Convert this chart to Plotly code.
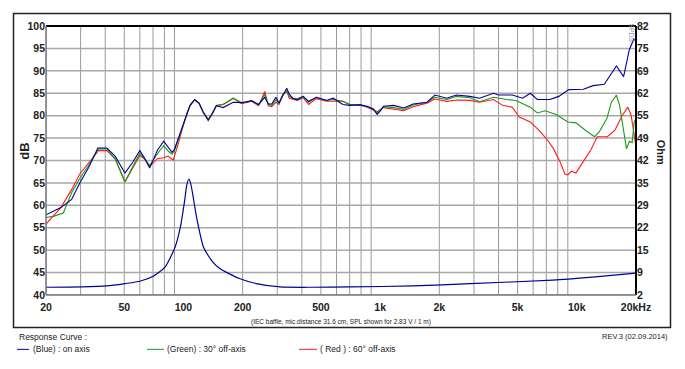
import plotly.graph_objects as go

# ---------------- data ----------------
blue_f = [20, 23.8, 27, 29.7, 33, 36.7, 40.8, 45, 50.4, 55, 60, 63.5, 67.3, 73.7, 79.4, 84, 87.4, 90, 95,
          99.2, 103.7, 108, 114, 120, 126, 133.6, 140, 147, 159, 170, 179, 197.7, 210, 222, 241, 259, 270,
          281, 295, 306, 320, 335, 345, 359, 380, 406, 433, 474, 535, 577, 646, 700, 789, 858, 920, 966,
          1000, 1040, 1170, 1320, 1470, 1730, 1900, 2180, 2440, 2860, 3200, 3770, 4000, 4700, 5300, 5800,
          6300, 7300, 8100, 9100, 10800, 12100, 13800, 15000, 15900, 17300, 18500, 19500, 20000]
blue_db = [57.9, 59.5, 61.3, 65, 68.5, 72.8, 72.8, 70.9, 67.2, 69.5, 72.2, 70.5, 68.3, 72.3, 74.3, 72.8, 71.8,
           72.5, 75.5, 77.8, 80.4, 82.3, 83.6, 82.8, 80.8, 79.1, 80.5, 82.2, 81.8, 82.5, 83, 82.9, 83.1, 83.3,
           82.5, 84.1, 82.6, 82.6, 84.1, 82.8, 84.5, 86.1, 84.8, 83.9, 83.5, 84.3, 83.2, 84.1, 83.4, 83.9,
           82.5, 82.3, 82.4, 82.1, 81.5, 80.3, 81, 82.1, 82.3, 81.7, 82.6, 83, 84.6, 83.9, 84.6, 84.3, 83.9,
           85, 84.6, 84.6, 83.9, 85, 83.6, 83.6, 84.3, 85.8, 85.9, 86.7, 87, 89.6, 91.1, 88.7, 94.7, 97.1, 96.6]

green_f = [20, 22, 24.5, 27, 29.7, 33, 37, 40.8, 45, 50.4, 55, 60, 63.5, 67.3, 73.7, 79.4, 84, 87.4, 90, 95,
           99.2, 103.7, 108, 114, 120, 126, 133.6, 140, 147, 159, 170, 179, 197.7, 210, 222, 241, 259, 270,
           281, 295, 306, 320, 335, 345, 359, 380, 406, 433, 474, 535, 577, 646, 700, 789, 858, 920, 966,
           1000, 1040, 1170, 1320, 1470, 1730, 1900, 2180, 2440, 2860, 3200, 3770, 4400, 4900, 5800, 6300,
           6900, 7900, 9000, 9900, 11100, 12300, 13000, 14200, 15000, 15900, 16500, 17400, 17900, 18500,
           19100, 19600, 20000]
green_db = [57.3, 57.6, 58.3, 62.8, 66, 69, 72.6, 72.6, 70.3, 65.2, 68.5, 71.6, 70.3, 68.9, 71.5, 73.3, 72,
            71.4, 72.2, 75.3, 77.8, 80.4, 82.3, 83.6, 82.8, 80.8, 79, 80.5, 82.3, 82.5, 83.2, 83.9, 82.9, 83,
            83.4, 82.4, 84.8, 82.5, 82.3, 83.5, 82.7, 84.8, 85.4, 84.3, 83.9, 83.8, 84.3, 83, 84.1, 83.4,
            83.6, 83.2, 82.5, 82.5, 82, 81.6, 80.6, 81.2, 82, 81.8, 81.4, 82.4, 83, 84.1, 83.6, 84.3, 84,
            83.1, 84.1, 83.6, 83.4, 81.9, 80.6, 81.1, 80.2, 78.6, 78.4, 76.7, 75.3, 76.4, 79.3, 83, 84.6,
            82.3, 76.4, 72.6, 74.3, 74, 78.6, 79.3]

red_f = [20, 23.8, 27, 29.7, 33, 37, 40.8, 45, 50.4, 55, 60, 63.5, 67.3, 73.7, 79.4, 83.5, 88.6, 93, 99.2,
         103.7, 108, 114, 120, 126, 133.6, 140, 147, 159, 170, 179, 197.7, 210, 222, 241, 259, 270, 281,
         295, 306, 320, 335, 345, 359, 380, 406, 433, 474, 535, 577, 646, 700, 789, 858, 920, 966, 1040,
         1170, 1320, 1470, 1730, 1900, 2180, 2440, 2860, 3200, 3770, 4200, 4700, 5100, 5800, 6300, 7000,
         7600, 8200, 8700, 9000, 9400, 9900, 10800, 11800, 12700, 14300, 15600, 17000, 18200, 18900,
         19600, 20000]
red_db = [55.8, 59.5, 63.5, 67, 69.5, 72.2, 72.2, 70.3, 65.2, 68, 71.1, 70.3, 68.7, 70.4, 70.6, 71, 70.1, 73,
          77.5, 80.4, 82.2, 83.5, 82.7, 80.7, 78.9, 80.3, 82.2, 82.5, 83.2, 83.9, 82.7, 82.9, 83.2, 82.2,
          85.4, 82.2, 82, 83, 82.5, 84.5, 85.6, 83.9, 83.7, 83.4, 84, 82.5, 83.8, 83.2, 83.2, 83.2, 82.5,
          82.4, 81.9, 81.4, 80.9, 81.8, 81.4, 81.1, 82, 82.8, 83.7, 83.2, 83.5, 83.4, 83, 83.6, 82.3, 81.9,
          79.7, 78.6, 77.1, 74.9, 72.7, 69.8, 67, 66.8, 67.6, 67.2, 69.8, 72.4, 75.3, 75.3, 76.7, 80, 81.9,
          80, 75.6, 73]

imp_f = [20, 30.4, 40.7, 50.4, 60, 70.2, 80.6, 90.6, 96.4, 101.3, 103.8, 106.6, 109, 111.5, 116.7, 126.5,
         140, 153.6, 192.6, 234.6, 310, 450, 704, 1470, 2860, 7560, 12000, 20000]
imp_ohm = [4.3, 4.4, 4.7, 5.4, 6.1, 7.6, 10.3, 16.2, 22.1, 29.9, 34.5, 36.5, 35, 31.9, 25, 16.2, 12, 9.8,
           6.9, 5.4, 4.4, 4.3, 4.4, 4.7, 5.4, 6.4, 7.3, 8.5]

x_tickvals = [20, 50, 100, 200, 500, 1000, 2000, 5000, 10000, 20000]
x_ticktext = ["20", "50", "100", "200", "500", "1k", "2k", "5k", "10k", "20kHz"]
db_ticks = [40, 45, 50, 55, 60, 65, 70, 75, 80, 85, 90, 95, 100]
ohm_tickvals = [2 + i * 80 / 12 for i in range(13)]
ohm_ticktext = ["2", "9", "15", "22", "29", "35", "42", "49", "55", "62", "69", "75", "82"]
grid_freqs = [f * m for m in (10, 100, 1000) for f in range(2, 10)] + [20000]
grid_freqs = [g for g in grid_freqs if 20 <= g <= 20000]

BLUE = "#000099"
GREEN = "#1a9a1a"
RED = "#ff1a1a"

fig = go.Figure()
fig.add_trace(go.Scatter(x=imp_f, y=imp_ohm, yaxis="y2", mode="lines",
                         line=dict(color=BLUE, width=1.2, shape="spline", smoothing=0.6), hoverinfo="skip"))
fig.add_trace(go.Scatter(x=red_f, y=red_db, mode="lines", line=dict(color=RED, width=1.1)))
fig.add_trace(go.Scatter(x=green_f, y=green_db, mode="lines", line=dict(color=GREEN, width=1.1)))
fig.add_trace(go.Scatter(x=blue_f, y=blue_db, mode="lines", line=dict(color=BLUE, width=1.1)))

shapes = []
for g in grid_freqs:
    shapes.append(dict(type="line", xref="x", yref="paper", x0=g, x1=g, y0=0, y1=1,
                       line=dict(color="#9a9a9a", width=1), layer="below"))
for v in db_ticks:
    shapes.append(dict(type="line", xref="paper", yref="y", x0=0, x1=1, y0=v, y1=v,
                       line=dict(color="#a8a8a8", width=1.5), layer="below"))
# plot borders
shapes.append(dict(type="line", xref="paper", yref="paper", x0=0, x1=1, y0=1, y1=1,
                   line=dict(color="black", width=2)))
shapes.append(dict(type="line", xref="paper", yref="paper", x0=1, x1=1, y0=0, y1=1,
                   line=dict(color="black", width=2)))
shapes.append(dict(type="line", xref="paper", yref="paper", x0=0, x1=0, y0=0, y1=1,
                   line=dict(color="#777777", width=1.5)))
shapes.append(dict(type="line", xref="paper", yref="paper", x0=0, x1=1, y0=0, y1=0,
                   line=dict(color="#777777", width=1.5)))

# page pixel -> paper coordinates (plot area spans page x 46..636, y 22.7..295)
def px(x):
    return (x - 46) / 590.0

def py(y):
    return (295 - y) / 272.3

shapes.append(dict(type="rect", xref="paper", yref="paper", x0=px(13.5), x1=px(670.5), y0=py(10), y1=py(328),
                   line=dict(color="#222222", width=1.5)))

# legend line samples
for (x0, x1, col) in [(17, 29, BLUE), (147, 164, GREEN), (299, 317, RED)]:
    shapes.append(dict(type="line", xref="paper", yref="paper", x0=px(x0), x1=px(x1), y0=py(350), y1=py(350),
                       line=dict(color=col, width=1)))

font_small = dict(family="Liberation Sans, Arial", size=8.5, color="#222222")
annotations = [
    dict(text="<b>dB</b>", xref="paper", yref="paper", x=px(25), y=py(150), showarrow=False, textangle=-90,
         font=dict(family="Liberation Sans, Arial", size=13, color="#222222"), xanchor="center", yanchor="middle"),
    dict(text="<b>Ohm</b>", xref="paper", yref="paper", x=px(661), y=py(150), showarrow=False, textangle=90,
         font=dict(family="Liberation Sans, Arial", size=11, color="#222222"), xanchor="center", yanchor="middle"),
    dict(text="(IEC baffle, mic.distance 31.6 cm, SPL shown for 2.83 V / 1 m)", xref="paper", yref="paper",
         x=px(341), y=py(322), showarrow=False, font=dict(family="Liberation Sans, Arial", size=6.5, color="#222222"),
         xanchor="center", yanchor="middle"),
    dict(text="Response Curve :", xref="paper", yref="paper", x=px(17), y=py(338), showarrow=False,
         font=font_small, xanchor="left", yanchor="middle"),
    dict(text="(Blue) : on axis", xref="paper", yref="paper", x=px(31), y=py(350), showarrow=False,
         font=font_small, xanchor="left", yanchor="middle"),
    dict(text="(Green) : 30° off-axis", xref="paper", yref="paper", x=px(165), y=py(350), showarrow=False,
         font=font_small, xanchor="left", yanchor="middle"),
    dict(text="( Red ) : 60° off-axis", xref="paper", yref="paper", x=px(318), y=py(350), showarrow=False,
         font=font_small, xanchor="left", yanchor="middle"),
    dict(text="REV.3 (02.09.2014)", xref="paper", yref="paper", x=px(670), y=py(337), showarrow=False,
         font=dict(family="Liberation Sans, Arial", size=7.5, color="#222222"), xanchor="right", yanchor="middle"),
    dict(text="SPDS", xref="paper", yref="paper", x=px(632), y=py(29), showarrow=False, textangle=90,
         font=dict(family="Liberation Sans, Arial", size=7, color="#999999"), xanchor="center", yanchor="middle"),
]

tickfont = dict(family="Liberation Sans, Arial", size=10.5, color="#222222")
# the page body adds an 8px offset, so the figure is 8px smaller and margins are shifted
fig.update_layout(
    width=677, height=361,
    margin=dict(l=38, r=49, t=14.7, b=74, pad=0),
    paper_bgcolor="white", plot_bgcolor="white",
    showlegend=False,
    xaxis=dict(type="log", range=[1.30103, 4.30103], tickvals=x_tickvals,
               ticktext=["<b>%s</b>" % t for t in x_ticktext], showgrid=False, zeroline=False,
               tickfont=tickfont, ticks="", ticklabelstandoff=4),
    yaxis=dict(range=[40, 100], tickvals=db_ticks, ticktext=["<b>%d</b>" % v for v in db_ticks],
               showgrid=False, zeroline=False, tickfont=tickfont, ticks=""),
    yaxis2=dict(range=[2, 82], overlaying="y", side="right", tickvals=ohm_tickvals,
                ticktext=["<b>%s</b>" % t for t in ohm_ticktext], showgrid=False, zeroline=False,
                tickfont=tickfont, ticks=""),
    shapes=shapes,
    annotations=annotations,
)

fig.write_html("out.html")
